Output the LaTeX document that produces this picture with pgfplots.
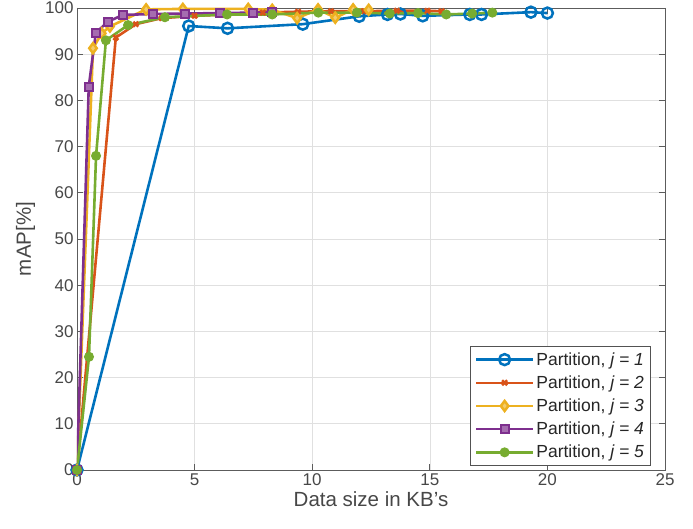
\documentclass[border=0pt]{standalone}
\usepackage{pgfplots}
\pgfplotsset{compat=1.18}
\usepackage{fontspec}
\setmainfont{Liberation Sans}
\definecolor{mblue}{rgb}{0,0.447,0.741}
\definecolor{morange}{rgb}{0.85,0.325,0.098}
\definecolor{myellow}{rgb}{0.929,0.694,0.125}
\definecolor{mpurple}{rgb}{0.494,0.184,0.556}
\definecolor{mgreen}{rgb}{0.466,0.674,0.188}
\definecolor{axgray}{rgb}{0.15,0.15,0.15}
\begin{document}
\begin{tikzpicture}
\begin{axis}[
  scale only axis,
  width=588pt, height=462pt,
  xmin=0, xmax=25, ymin=0, ymax=100,
  xtick={0,5,...,25}, ytick={0,10,...,100},
  grid=major,
  major grid style={color=black!12, line width=0.6pt},
  axis line style={color=axgray!75, line width=0.8pt},
  tick style={color=axgray!75, line width=0.8pt},
  tick align=inside,
  major tick length=6pt,
  ticklabel style={font=\fontsize{17}{20}\selectfont, text=axgray!85},
  /pgf/number format/assume math mode=true,
  xlabel={Data size in KB's},
  ylabel={mAP[\%]},
  label style={font=\fontsize{20.5}{24}\selectfont, text=axgray!85},
  xlabel style={yshift=1pt},
  ylabel style={yshift=3pt},
  legend style={at={(0.975,0.009)}, anchor=south east, draw=axgray!80,
    line width=0.8pt, font=\fontsize{17.5}{21}\selectfont, text=axgray,
    row sep=5pt, inner sep=4pt},
  legend cell align=left,
  legend image code/.code={
    \draw[mark repeat=2,mark phase=2,line width=2.6pt] plot coordinates {(0cm,0cm) (1cm,0cm) (2cm,0cm)};
  },
]
\addplot[color=mblue, line width=2.6pt, mark=o, mark size=5.5pt, mark options={line width=2.5pt}] coordinates {
(0,0) (4.75,96.1) (6.4,95.6) (9.6,96.5) (12.0,98.2) (13.2,98.6) (13.75,98.7)
(14.7,98.3) (16.7,98.6) (17.2,98.6) (19.3,99.1) (20.0,98.9)};
\addlegendentry{Partition, \textit{j = 1}}
\addplot[color=morange, line width=2.6pt, mark=x, mark size=3.5pt, mark options={line width=2.5pt}] coordinates {
(0,0) (1.65,93.6) (2.5,96.5) (3.6,97.8) (5.0,98.3) (6.4,98.6) (7.9,99.0)
(9.4,99.2) (10.8,99.3) (12.2,99.3) (13.6,99.4) (14.9,99.4) (15.5,99.3)};
\addlegendentry{Partition, \textit{j = 2}}
\addplot[color=myellow, line width=2.6pt, mark=diamond*, mark size=5pt, mark options={line width=2.5pt, fill=myellow!65}] coordinates {
(0,0) (0.68,91.3) (1.05,94.5) (1.4,96.0) (2.94,99.7) (4.5,99.8) (7.28,99.8)
(8.3,99.6) (9.36,97.8) (10.25,99.7) (10.98,97.9) (11.74,99.7) (12.4,99.6)};
\addlegendentry{Partition, \textit{j = 3}}
\addplot[color=mpurple, line width=2.6pt, mark=square*, mark size=4pt, mark options={line width=2pt, fill=mpurple!70}] coordinates {
(0,0) (0.5,83) (0.8,94.6) (1.3,97) (1.95,98.5) (3.25,98.7) (4.6,98.8)
(6.1,98.9) (7.5,99.0) (8.3,99.2)};
\addlegendentry{Partition, \textit{j = 4}}
\addplot[color=mgreen, line width=2.6pt, mark=*, mark size=4.5pt, mark options={line width=1pt}] coordinates {
(0,0) (0.51,24.5) (0.81,68) (1.23,93) (2.17,96.3) (3.74,98) (6.38,98.6)
(8.3,98.6) (10.26,99) (11.9,99) (13.3,98.8) (14.5,98.9) (15.7,98.6) (16.8,98.8) (17.66,99)};
\addlegendentry{Partition, \textit{j = 5}}
\end{axis}
\pgfresetboundingbox
\path ([shift={(-77pt,-59pt)}]current axis.south west) rectangle ([shift={(28pt,8pt)}]current axis.north east);
\end{tikzpicture}
\end{document}
